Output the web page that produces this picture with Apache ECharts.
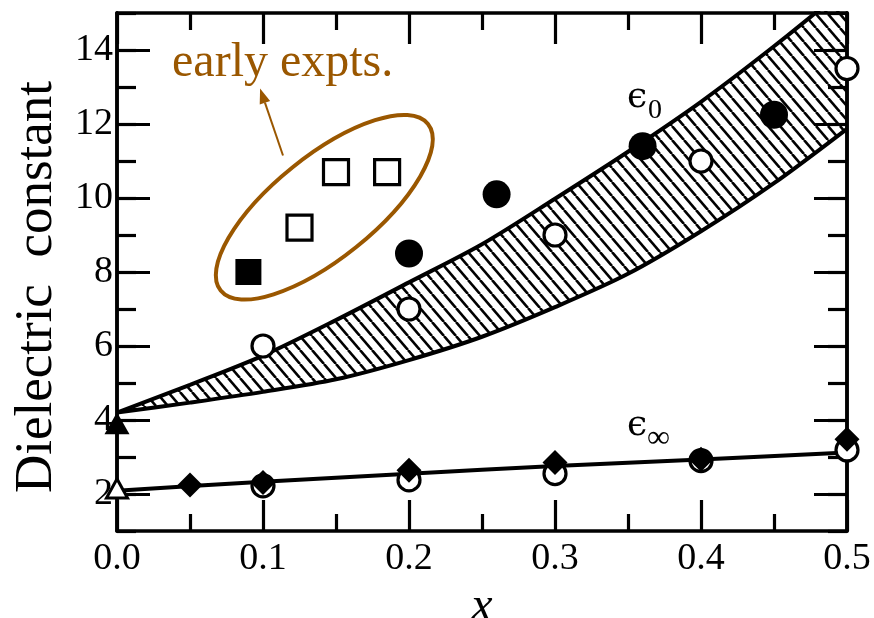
<!DOCTYPE html>
<html>
<head>
<meta charset="utf-8">
<script src="https://cdn.jsdelivr.net/npm/echarts@6/dist/echarts.min.js"></script>
<style>
  html, body { margin: 0; padding: 0; background: #fff; }
  #chart { width: 874px; height: 618px; }
</style>
</head>
<body>
<div id="chart"></div>
<script>
// ---- data -------------------------------------------------------------
// calculated static dielectric constant: lower / upper edge of the band
const bandX     = [0, 0.05, 0.1, 0.15, 0.2, 0.25, 0.3, 0.35, 0.4, 0.45, 0.5];
const eps0Lower = [4.2, 4.47, 4.76, 5.1, 5.62, 6.25, 7.05, 7.95, 9.1, 10.4, 11.87];
const eps0Upper = [4.2, 4.95, 5.74, 6.7, 7.72, 8.75, 9.98, 11.25, 12.6, 14.1, 15.7];

// calculated high-frequency dielectric constant
const epsInfX    = [0, 0.1, 0.2, 0.3, 0.4, 0.5];
const epsInfCalc = [2.09, 2.33, 2.55, 2.76, 2.93, 3.12];

// measured eps_0 (open circles) and eps_inf (small open circles)
const openEps0X   = [0.1, 0.2, 0.3, 0.4, 0.5];
const openEps0    = [6.0, 7.0, 9.0, 11.0, 13.5];
const openEpsInfX = [0.1, 0.2, 0.3, 0.4, 0.5];
const openEpsInf  = [2.22, 2.38, 2.55, 2.9, 3.19];

// filled circles
const filledCircleX = [0.2, 0.26, 0.36, 0.45];
const filledCircle  = [8.5, 10.1, 11.4, 12.25];

// filled diamonds (eps_inf)
const diamondX = [0.05, 0.1, 0.2, 0.3, 0.4, 0.5];
const diamond  = [2.24, 2.31, 2.64, 2.85, 2.94, 3.48];

// early experiments
const openSquareX   = [0.125, 0.15, 0.185];
const openSquare    = [9.2, 10.7, 10.7];
const filledSquareX = [0.09];
const filledSquare  = [8.0];

// end member (x = 0)
const filledTriX = [0];
const filledTri  = [3.91];
const openTriX   = [0];
const openTri    = [2.15];

// axes
const yTickValues = [2, 4, 6, 8, 10, 12, 14];

// ---- helpers ----------------------------------------------------------
const zip = (xs, ys) => xs.map((x, i) => [x, ys[i]]);
const SERIF = "'Liberation Serif', 'DejaVu Serif', serif";
const BROWN = '#9a5700';

// diagonal "\\\\" hatching tile
function hatchPattern() {
  const W = 12, H = 14;
  const c = document.createElement('canvas');
  c.width = W; c.height = H;
  const g = c.getContext('2d');
  g.strokeStyle = '#000';
  g.lineWidth = 2.6;
  for (let k = -1; k <= 1; k++) {
    g.beginPath();
    g.moveTo(k * W, 0);
    g.lineTo(k * W + W, H);
    g.stroke();
  }
  return c;
}

const frameLine = { show: true, onZero: false, lineStyle: { color: '#000', width: 3.5 } };
const tickStyle = { color: '#000', width: 3.2 };

function xAxisDef(pos, withLabels) {
  return {
    type: 'value', position: pos, min: 0, max: 0.5, interval: 0.1, z: 5,
    axisLine: frameLine,
    axisTick: { show: true, inside: true, length: 31, lineStyle: tickStyle },
    minorTick: { show: true, splitNumber: 2, length: 17, lineStyle: tickStyle },
    splitLine: { show: false }, minorSplitLine: { show: false },
    axisLabel: withLabels ? {
      show: true, fontSize: 38, fontFamily: SERIF, color: '#000', margin: 9,
      formatter: v => v.toFixed(1)
    } : { show: false },
    name: withLabels ? 'x' : '',
    nameLocation: 'middle', nameGap: 42,
    nameTextStyle: { fontSize: 48, fontStyle: 'italic', fontFamily: SERIF, color: '#000' }
  };
}

function yAxisDef(pos, major, withLabels) {
  return {
    type: 'value', position: pos, min: 1, max: 15, interval: 1, z: 5,
    axisLine: frameLine,
    axisTick: major
      ? { show: true, inside: true, length: 33, lineStyle: tickStyle, customValues: yTickValues }
      : { show: true, inside: true, length: 19, lineStyle: tickStyle },
    splitLine: { show: false },
    axisLabel: withLabels ? {
      show: true, fontSize: 38, fontFamily: SERIF, color: '#000', margin: 4,
      customValues: yTickValues
    } : { show: false },
    name: withLabels ? 'Dielectric  constant' : '',
    nameLocation: 'middle', nameRotate: 90, nameGap: 53,
    nameTextStyle: { fontSize: 53, fontFamily: SERIF, color: '#000', padding: [0, 30, 0, 0] }
  };
}

function scatter(xs, ys, symbol, size, fill, border) {
  return {
    type: 'scatter', data: zip(xs, ys), symbol: symbol, symbolSize: size,
    silent: true, clip: false, z: 7,
    itemStyle: { color: fill, borderColor: '#000', borderWidth: border, opacity: 1 }
  };
}

const chart = echarts.init(document.getElementById('chart'), null, { renderer: 'canvas' });

chart.setOption({
  animation: false,
  backgroundColor: '#fff',
  grid: { left: 117, right: 27, top: 13, bottom: 87, containLabel: false, outerBoundsMode: 'none' },
  xAxis: [xAxisDef('bottom', true), xAxisDef('top', false)],
  yAxis: [
    yAxisDef('left', true, true),
    yAxisDef('left', false, false),
    yAxisDef('right', true, false),
    yAxisDef('right', false, false)
  ],
  series: [
    // hatched region below the upper edge ...
    {
      type: 'line', name: 'eps0 upper', data: zip(bandX, eps0Upper),
      symbol: 'none', smooth: 0.3, silent: true, z: 2,
      lineStyle: { color: '#000', width: 4 },
      areaStyle: { color: { image: hatchPattern(), repeat: 'repeat' }, opacity: 1, origin: 'start' }
    },
    // ... blanked out again below the lower edge
    {
      type: 'line', name: 'eps0 lower', data: zip(bandX, eps0Lower),
      symbol: 'none', smooth: 0.3, silent: true, z: 3,
      lineStyle: { color: '#000', width: 4 },
      areaStyle: { color: '#fff', opacity: 1, origin: 'start' }
    },
    {
      type: 'line', name: 'eps_inf', data: zip(epsInfX, epsInfCalc),
      symbol: 'none', smooth: 0.3, silent: true, z: 6,
      lineStyle: { color: '#000', width: 4 }
    },
    scatter(openEps0X, openEps0, 'circle', 22, '#fff', 3.2),
    scatter(openEpsInfX, openEpsInf, 'circle', 22, '#fff', 3.2),
    scatter(diamondX, diamond, 'diamond', 25, '#000', 0),
    scatter(filledCircleX, filledCircle, 'circle', 28, '#000', 0),
    scatter(openSquareX, openSquare, 'rect', 25, '#fff', 3.2),
    scatter(filledSquareX, filledSquare, 'rect', 26, '#000', 0),
    scatter(filledTriX, filledTri, 'triangle', [25, 22], '#000', 0),
    scatter(openTriX, openTri, 'triangle', [21, 19], '#fff', 3)
  ]
});

// ---- annotations (placed in data units) -------------------------------
const noteEllipse = { center: [0.142, 9.75], rx: 133, ry: 51, angle: 38.8 };
const noteArrow   = { from: [0.1137, 11.15], to: [0.098, 12.96] };
const noteText    = { at: [0.0377, 13.65], text: 'early expts.' };
const eps0Label   = { at: [0.3493, 12.72] };
const epsInfLabel = { at: [0.3493, 3.84] };

const px = p => chart.convertToPixel({ xAxisIndex: 0, yAxisIndex: 0 }, p);

const ec = px(noteEllipse.center);
const a0 = px(noteArrow.from), a1 = px(noteArrow.to);
const ang = Math.atan2(a1[1] - a0[1], a1[0] - a0[0]);
const headLen = 15, headHalf = 5.5;
const hb = [a1[0] - headLen * Math.cos(ang), a1[1] - headLen * Math.sin(ang)];
const nx = -Math.sin(ang), ny = Math.cos(ang);
const tp = px(noteText.at);
const e0 = px(eps0Label.at);
const ei = px(epsInfLabel.at);
const EPS_FONT = "36px 'DejaVu Serif', serif";

chart.setOption({
  graphic: [
    {
      type: 'ellipse', silent: true, z: 100,
      x: ec[0], y: ec[1], rotation: noteEllipse.angle * Math.PI / 180,
      shape: { cx: 0, cy: 0, rx: noteEllipse.rx, ry: noteEllipse.ry },
      style: { fill: 'none', stroke: BROWN, lineWidth: 4 }
    },
    {
      type: 'line', silent: true, z: 100,
      shape: { x1: a0[0], y1: a0[1], x2: hb[0], y2: hb[1] },
      style: { stroke: BROWN, lineWidth: 2 }
    },
    {
      type: 'polygon', silent: true, z: 100,
      shape: { points: [a1, [hb[0] + nx * headHalf, hb[1] + ny * headHalf], [hb[0] - nx * headHalf, hb[1] - ny * headHalf]] },
      style: { fill: BROWN }
    },
    {
      type: 'text', silent: true, z: 100, x: tp[0], y: tp[1],
      style: { text: noteText.text, fill: BROWN, font: '48px ' + SERIF, textAlign: 'left', textVerticalAlign: 'middle' }
    },
    {
      type: 'text', silent: true, z: 100, x: e0[0], y: e0[1],
      style: { text: '\u03f5', fill: '#000', font: EPS_FONT, textAlign: 'left', textVerticalAlign: 'middle' }
    },
    {
      type: 'text', silent: true, z: 100, x: e0[0] + 21, y: e0[1] + 13,
      style: { text: '0', fill: '#000', font: '28px ' + SERIF, textAlign: 'left', textVerticalAlign: 'middle' }
    },
    {
      type: 'text', silent: true, z: 100, x: ei[0], y: ei[1],
      style: { text: '\u03f5', fill: '#000', font: EPS_FONT, textAlign: 'left', textVerticalAlign: 'middle' }
    },
    {
      type: 'text', silent: true, z: 100, x: ei[0] + 20, y: ei[1] + 13,
      style: { text: '\u221e', fill: '#000', font: '32px ' + SERIF, textAlign: 'left', textVerticalAlign: 'middle' }
    }
  ]
});
</script>
</body>
</html>
